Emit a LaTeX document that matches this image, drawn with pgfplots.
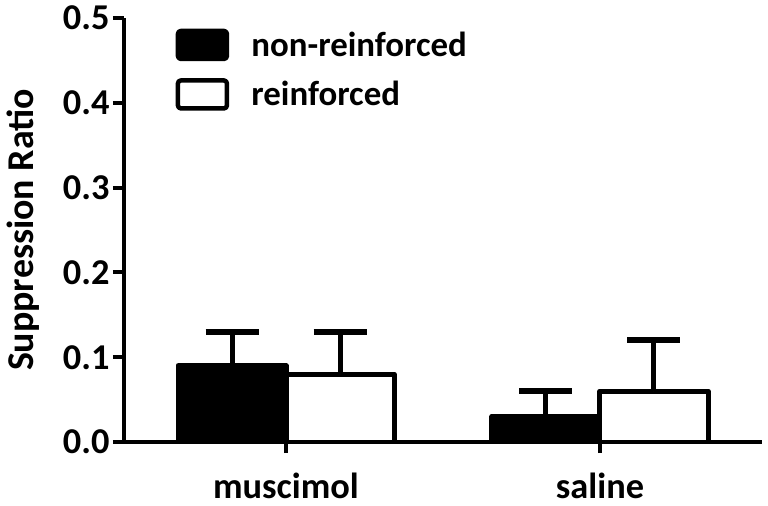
\documentclass[border=0pt]{standalone}
\usepackage{fontspec}
\setmainfont{Carlito}
\usepackage{pgfplots}
\pgfplotsset{compat=1.18}

\newcommand{\tickfont}{\fontsize{36.5}{42}\selectfont\bfseries}
\newcommand{\labelfont}{\fontsize{38}{44}\selectfont\bfseries}
\newcommand{\legendfont}{\fontsize{35}{42}\selectfont\bfseries}

\begin{document}
\begin{tikzpicture}
\path[use as bounding box] (-124bp,-64bp) rectangle (644bp,442bp);
\begin{axis}[
  at={(0,0)}, anchor=south west,
  scale only axis, width=638bp, height=424bp,
  xmin=0.484, xmax=2.516, ymin=0, ymax=0.5,
  axis lines*=left,
  axis line style={line width=4bp},
  ybar, bar width=0.344,
  xtick={1,2}, xticklabels={muscimol,saline},
  ytick={0,0.1,0.2,0.3,0.4,0.5},
  tick align=outside, major tick length=11bp,
  every tick/.style={line width=4bp, black},
  every tick label/.append style={font=\tickfont},
  xticklabel style={yshift=-16bp},
  /pgf/number format/assume math mode=true,
  yticklabel style={/pgf/number format/.cd, fixed, fixed zerofill, precision=1},
  ylabel={Suppression Ratio},
  ylabel style={font=\labelfont, at={(axis description cs:-0.158,0.5)}, anchor=center},
  error bars/y dir=plus,
  error bars/y explicit,
  error bars/error bar style={line width=5bp},
  error bars/error mark options={rotate=90, line width=5.5bp, mark size=26.5bp},
  legend style={at={(0.076,0.98)}, anchor=north west, draw=none, fill=none,
    font=\legendfont, nodes={inner sep=0pt}, row sep=17bp},
  legend cell align=left,
  legend image code/.code={
    \draw[line width=4.5bp, rounded corners=3bp, #1] (0bp,-14bp) rectangle (49bp,14bp);
    \path (71bp,0bp);},
]
\addplot[fill=black, draw=black, line width=5bp, line join=round, bar shift=-0.172]
  coordinates {(1,0.09) +- (0,0.04) (2,0.03) +- (0,0.03)};
\addplot[fill=white, draw=black, line width=5bp, line join=round, bar shift=0.172]
  coordinates {(1,0.08) +- (0,0.05) (2,0.06) +- (0,0.06)};
\legend{non-reinforced, reinforced}
\end{axis}
\end{tikzpicture}
\end{document}
